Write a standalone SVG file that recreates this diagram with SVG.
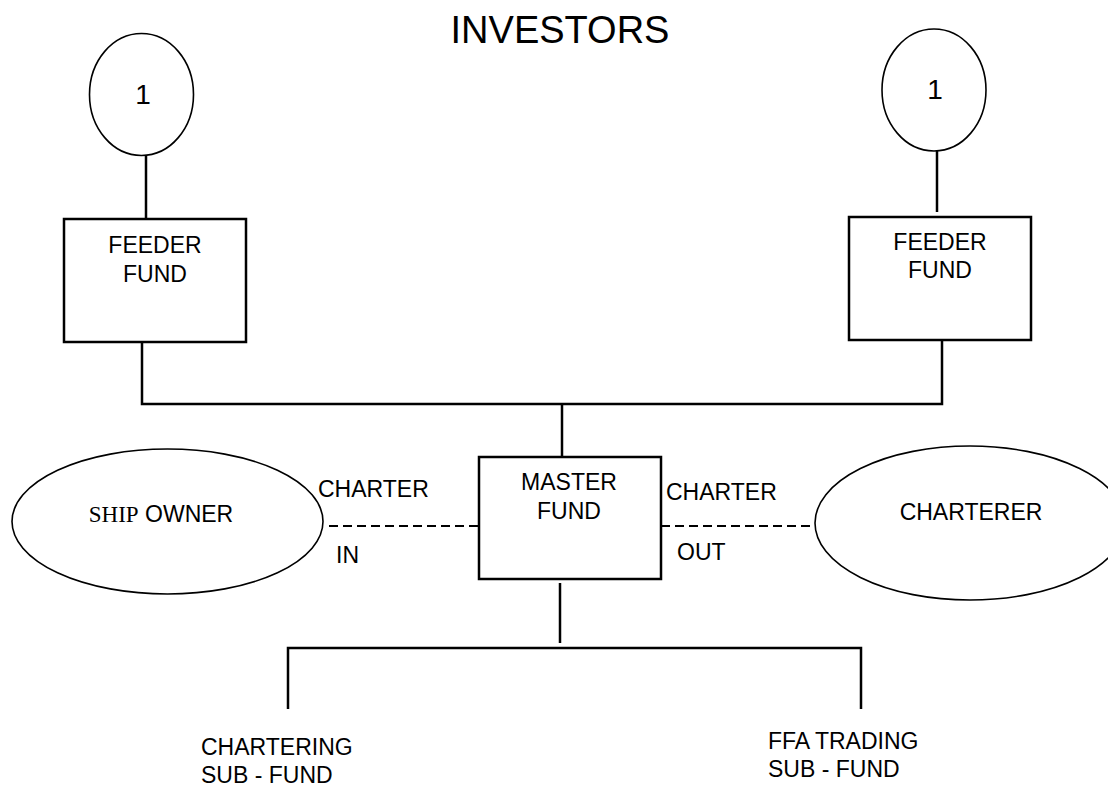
<svg xmlns="http://www.w3.org/2000/svg" width="1108" height="788" viewBox="0 0 1108 788">
<style>
text{font-family:"Liberation Sans",Arial,sans-serif;font-size:23px;fill:#000}
.title{font-size:38px}
.num{font-size:28px}
.serif{font-family:"Liberation Serif","Times New Roman",serif}
.box{fill:#fff;stroke:#000;stroke-width:2.5}
.oval{fill:#fff;stroke:#000;stroke-width:1.6}
.ln{stroke:#000;stroke-width:2.5;fill:none}
.dash{stroke:#000;stroke-width:2;stroke-dasharray:9 5;fill:none}
</style>
<rect width="1108" height="788" fill="#fff"/>
<text class="title" x="560" y="43" text-anchor="middle">INVESTORS</text>
<g id="connectors">
<line class="ln" x1="146" y1="156" x2="146" y2="219"/>
<line class="ln" x1="937" y1="151" x2="937" y2="212"/>
<polyline class="ln" points="142,342 142,404 942,404 942,340"/>
<line class="ln" x1="562" y1="404" x2="562" y2="457"/>
<line class="ln" x1="560" y1="583" x2="560" y2="643"/>
<polyline class="ln" points="288,709 288,648 861,648 861,709"/>
<line class="dash" x1="329" y1="526" x2="479" y2="526"/>
<line class="dash" x1="661" y1="526" x2="815" y2="526"/>
<text x="318" y="497">CHARTER</text>
<text x="336" y="563">IN</text>
<text x="666" y="500">CHARTER</text>
<text x="677" y="560">OUT</text>
</g>
<g id="investor-left">
<ellipse class="oval" cx="141.5" cy="94.5" rx="52" ry="61"/>
<text class="num" x="143" y="104" text-anchor="middle">1</text>
</g>
<g id="investor-right">
<ellipse class="oval" cx="934" cy="90" rx="52" ry="61"/>
<text class="num" x="935" y="99" text-anchor="middle">1</text>
</g>
<g id="feeder-left">
<rect class="box" x="64" y="219" width="182" height="123"/>
<text x="155" y="253" text-anchor="middle">FEEDER</text>
<text x="155" y="282" text-anchor="middle">FUND</text>
</g>
<g id="feeder-right">
<rect class="box" x="849" y="217" width="182" height="123"/>
<text x="940" y="250" text-anchor="middle">FEEDER</text>
<text x="940" y="278" text-anchor="middle">FUND</text>
</g>
<g id="master-fund">
<rect class="box" x="479" y="457" width="182" height="122"/>
<text x="569" y="490" text-anchor="middle">MASTER</text>
<text x="569" y="519" text-anchor="middle">FUND</text>
</g>
<g id="ship-owner">
<ellipse class="oval" cx="167.5" cy="521.5" rx="155.5" ry="72.5"/>
<text x="161" y="522" text-anchor="middle"><tspan class="serif">SHIP</tspan> OWNER</text>
</g>
<g id="charterer">
<ellipse class="oval" cx="970" cy="523" rx="155" ry="77"/>
<text x="971" y="520" text-anchor="middle">CHARTERER</text>
</g>
<g id="chartering-sub-fund">
<text x="201" y="755">CHARTERING</text>
<text x="201" y="783">SUB - FUND</text>
</g>
<g id="ffa-trading-sub-fund">
<text x="768" y="749">FFA TRADING</text>
<text x="768" y="777">SUB - FUND</text>
</g>
</svg>
